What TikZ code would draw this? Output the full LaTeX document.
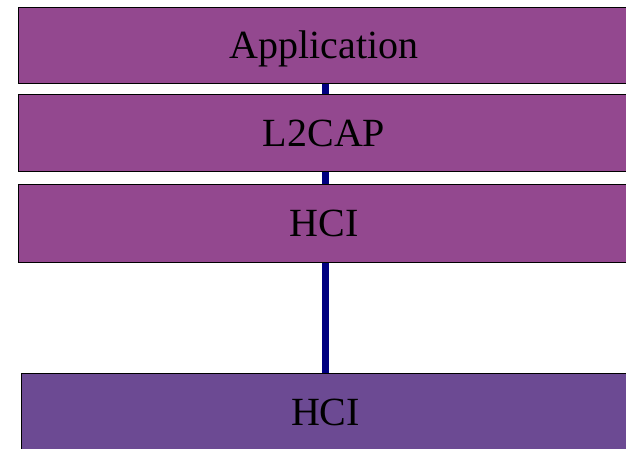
\documentclass[tikz,border=0pt]{standalone}
\usepackage{fontspec}
\setmainfont{Liberation Serif}
\usepackage{xcolor}
\usepackage{tikz}
\pgfdeclarelayer{background}
\pgfsetlayers{background,main}

\definecolor{hostpurple}{RGB}{147,72,143}
\definecolor{ctrlpurple}{RGB}{108,74,147}
\definecolor{linknavy}{RGB}{0,0,128}

\begin{document}
\begin{tikzpicture}[x=1pt, y=-1pt]
    % Define styles
    \tikzstyle{layer} = [rectangle, draw=black, line width=0.8pt, fill=hostpurple, minimum width=612pt, minimum height=76pt, inner sep=0pt, text height=27pt, text depth=0pt, font=\fontsize{40}{40}\selectfont]
    \tikzstyle{ctrl} = [layer, fill=ctrlpurple, minimum height=78pt, minimum width=609pt]
    \tikzstyle{link} = [draw=linknavy, line width=7pt]

    \useasboundingbox (0,0) rectangle (626,448);
    \clip (0,0) rectangle (626,448);

    % Host stack
    \node[layer] (app) at (324,45) {Application};
    \node[layer, minimum height=77pt] (l2cap) at (324,132.5) {L2CAP};
    \node[layer, minimum height=78pt] (hci) at (324,223) {HCI};

    % Controller
    \node[ctrl] (hcictrl) at (325.5,412) {HCI};

    % Link
    \begin{pgfonlayer}{background}
        \draw[link] (app.south -| hcictrl) -- (hcictrl.north);
    \end{pgfonlayer}
\end{tikzpicture}
\end{document}
